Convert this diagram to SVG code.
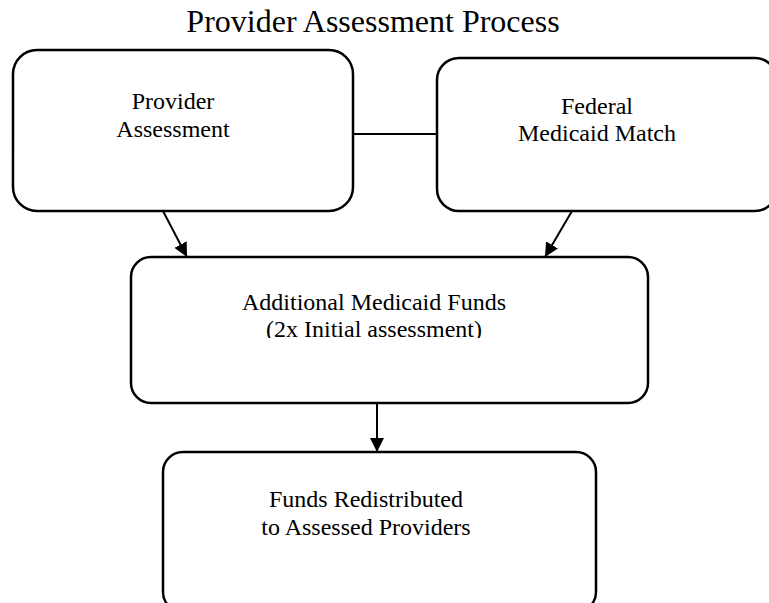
<svg xmlns="http://www.w3.org/2000/svg" width="769" height="603" viewBox="0 0 769 603">
<style>
.box{fill:#fff;stroke:#000;stroke-width:2.5}
.t{font-family:"Liberation Serif","Times New Roman",serif;font-size:24px;fill:#000;text-anchor:middle}
.title{font-family:"Liberation Serif","Times New Roman",serif;font-size:32px;fill:#000;text-anchor:middle}
.c{stroke:#000;stroke-width:2;fill:none}
</style>
<defs>
<marker id="ah" viewBox="0 0 10 10" refX="10" refY="5" markerWidth="14" markerHeight="14" markerUnits="userSpaceOnUse" orient="auto">
<path d="M0,0 L10,5 L0,10 Z" fill="#000"/>
</marker>
<clipPath id="clip3"><rect x="0" y="0" width="769" height="338"/></clipPath>
</defs>
<rect width="769" height="603" fill="#fff"/>
<text class="title" x="373" y="32">Provider Assessment Process</text>
<g id="connectors">
<line class="c" x1="353" y1="134" x2="437" y2="134"/>
<line class="c" x1="163" y1="211" x2="187" y2="257" marker-end="url(#ah)"/>
<line class="c" x1="572" y1="211" x2="545" y2="257" marker-end="url(#ah)"/>
<line class="c" x1="377" y1="403" x2="377" y2="452" marker-end="url(#ah)"/>
</g>
<g id="node-provider">
<rect class="box" x="13" y="50" width="340" height="161" rx="24"/>
<text class="t" x="173" y="109">Provider</text>
<text class="t" x="173" y="137">Assessment</text>
</g>
<g id="node-federal">
<rect class="box" x="437" y="58" width="340" height="153" rx="22"/>
<text class="t" x="597" y="114">Federal</text>
<text class="t" x="597" y="141">Medicaid Match</text>
</g>
<g id="node-additional">
<rect class="box" x="131" y="257" width="517" height="146" rx="20"/>
<text class="t" x="374" y="310">Additional Medicaid Funds</text>
<text class="t" x="374" y="337" clip-path="url(#clip3)">(2x Initial assessment)</text>
</g>
<g id="node-redistributed">
<rect class="box" x="163" y="452" width="433" height="160" rx="20"/>
<text class="t" x="366" y="507">Funds Redistributed</text>
<text class="t" x="366" y="535">to Assessed Providers</text>
</g>
</svg>
